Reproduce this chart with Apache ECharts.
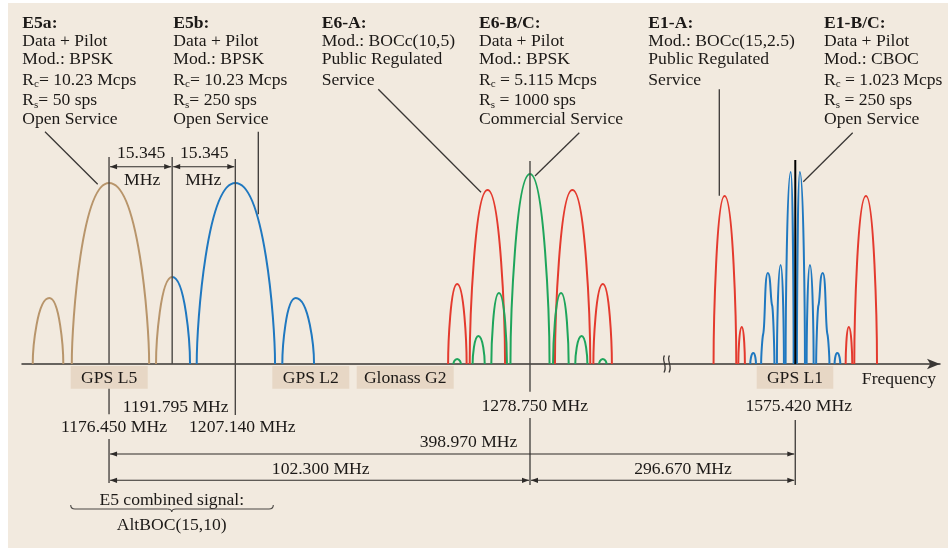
<!DOCTYPE html>
<html><head><meta charset="utf-8">
<script src="https://cdn.jsdelivr.net/npm/echarts@6/dist/echarts.min.js"></script>
<style>html,body{margin:0;padding:0;background:#fff}#c{width:948px;height:548px}</style>
</head><body><div id="c"></div>
<script>
// ---------------- DATA (frequencies in MHz, heights in relative PSD units) ----------------
// lobe = [startFreq, peakFreq, endFreq, height, half(-1 left half only, 1 right half only, 0 full)]
const e5aLobes = [[1157.91,1161.94,1165.34,66,0],[1167.40,1176.45,1186.20,181,0],[1187.87,1191.80,1196.13,87,-1]];
const e5bLobes = [[1187.87,1191.80,1196.13,87,1],[1197.76,1207.14,1216.79,181,0],[1218.56,1221.82,1226.27,66,0]];
const e6aLobes = [[1258.85,1261.05,1263.35,80,0],[1264.10,1268.45,1272.69,174,0],[1284.81,1289.05,1293.40,174,0],[1294.15,1296.45,1298.65,80,0]];
const e6bcLobes = [[1260.15,1261.05,1261.95,5,0],[1264.80,1266.20,1267.75,28,0],[1269.35,1271.20,1273.15,71,0],[1274.00,1278.75,1283.50,190,0],[1284.35,1286.30,1288.15,71,0],[1289.75,1291.30,1292.70,28,0],[1295.55,1296.45,1297.35,5,0]];
const e1aLobes = [[1555.56,1558.24,1561.08,168,0],[1561.57,1562.42,1563.18,37,0],[1587.66,1588.42,1589.27,37,0],[1589.76,1592.60,1595.28,168,0]];
const e1bcLobes = [[1564.48,1565.22,1565.87,11,0],[1570.96,1571.86,1572.66,99,0],[1573.07,1574.32,1575.02,192,0],[1575.82,1576.52,1577.77,192,0],[1578.18,1578.98,1579.88,99,0],[1584.97,1585.62,1586.36,11,0]];
// shouldered CBOC lobes: [start, shoulder1 f, shoulder1 h, peak f, peak h, shoulder2 f, shoulder2 h, end]
const e1bcShoulderLobes = [[1567.12,1567.62,30,1568.74,91,1569.83,58,1570.35],[1580.49,1581.01,58,1582.10,91,1583.22,30,1583.72]];
// reference carrier frequencies (MHz)
const markerFreqs = [1176.450, 1191.795, 1207.140, 1278.750, 1575.420];
const bandLabels = ['GPS L5','GPS L2','Glonass G2','GPS L1'];
const axisName = 'Frequency';
const blockTitles = ['E5a:','E5b:','E6-A:','E6-B/C:','E1-A:','E1-B/C:'];
const blockLines = [
  ['Data + Pilot','Mod.: BPSK','R{s|c}= 10.23 Mcps','R{s|s}= 50 sps','Open Service'],
  ['Data + Pilot','Mod.: BPSK','R{s|c}= 10.23 Mcps','R{s|s}= 250 sps','Open Service'],
  ['Mod.: BOCc(10,5)','Public Regulated','Service'],
  ['Data + Pilot','Mod.: BPSK','R{s|c} = 5.115 Mcps','R{s|s} = 1000 sps','Commercial Service'],
  ['Mod.: BOCc(15,2.5)','Public Regulated','Service'],
  ['Data + Pilot','Mod.: CBOC','R{s|c} = 1.023 Mcps','R{s|s} = 250 sps','Open Service']
];
const e5Caption = ['E5 combined signal:','AltBOC(15,10)'];

// ---------------- STYLE / LAYOUT ----------------
const FONT = '"Liberation Serif","Times New Roman",serif';
const FS = 17.6;
const TXT = '#1c1917';
const BG = '#f2eadf', BOX = '#e7d7c5', LINE = '#4a4744';
const C_BROWN = '#b8956b', C_BLUE = '#1f78c0', C_RED = '#e43a2e', C_GREEN = '#1ea55b';
const KV = 0.25, KH = 0.72;
const blockX = [22.3, 173.3, 321.7, 479, 648.3, 824];
const lineY = [23.5, 41, 59.5, 80, 100.5, 119];
const boxX = [[70.7,147.7],[272.3,349.3],[356.7,453.7],[756.7,833.3]];
const leaders = [[45,131.7,97.7,184.3],[258.3,131.7,258.3,214.3],[378.3,89.3,481,192.3],[579.3,132.7,535,176],[719.3,89.3,719.3,195.7],[852.7,132.7,803.3,181.7]];

function ctrl(A, B) {
  if (A[2] === 'v') return [A[0], A[1] + (B[1] - A[1]) * KV];
  if (A[2] === 's') return [A[0] + (B[0] - A[0]) * 0.45, A[1] + (B[1] - A[1]) * 0.12];
  return [A[0] + (B[0] - A[0]) * KH, A[1]];
}
function knotPath(api, knots) {
  const p = knots.map(k => { const c = api.coord([k[0], k[1]]); return [c[0], c[1], k[2]]; });
  let d = 'M' + p[0][0] + ',' + p[0][1];
  for (let i = 0; i < p.length - 1; i++) {
    const A = p[i], B = p[i + 1];
    const c1 = ctrl(A, B), c2 = ctrl(B, A);
    d += ' C' + c1[0] + ',' + c1[1] + ' ' + c2[0] + ',' + c2[1] + ' ' + B[0] + ',' + B[1];
  }
  return d;
}
function lobeSeries(name, gi, data, color) {
  return {
    type: 'custom', name, xAxisIndex: gi, yAxisIndex: gi, clip: false, z: 5,
    dimensions: ['start','peak','end','height','half'], encode: { x: [0,1,2], y: 3 },
    data,
    renderItem(params, api) {
      const x0 = api.value(0), xp = api.value(1), x1 = api.value(2), h = api.value(3), half = api.value(4);
      let k;
      if (half < 0) k = [[x0,0,'v'],[xp,h,'h']];
      else if (half > 0) k = [[xp,h,'h'],[x1,0,'v']];
      else k = [[x0,0,'v'],[xp,h,'h'],[x1,0,'v']];
      return { type: 'path', shape: { pathData: knotPath(api, k) }, style: { stroke: color, fill: 'none', lineWidth: 2 } };
    }
  };
}
function shoulderSeries(name, gi, data, color) {
  return {
    type: 'custom', name, xAxisIndex: gi, yAxisIndex: gi, clip: false, z: 5,
    dimensions: ['s','f1','h1','fp','hp','f2','h2','e'], encode: { x: [0,3,7], y: 4 },
    data,
    renderItem(params, api) {
      const v = i => api.value(i);
      const k = [[v(0),0,'v'],[v(1),v(2),'s'],[v(3),v(4),'h'],[v(5),v(6),'s'],[v(7),0,'v']];
      return { type: 'path', shape: { pathData: knotPath(api, k) }, style: { stroke: color, fill: 'none', lineWidth: 2 } };
    }
  };
}

const chart = echarts.init(document.getElementById('c'), null, { renderer: 'canvas' });
const axisLineStyle = { color: '#3a3735', width: 1.5 };
const option = {
  backgroundColor: '#ffffff',
  animation: false,
  grid: [
    { left: 22, top: 0, width: 644, height: 364 },
    { left: 666, top: 0, width: 274, height: 364 }
  ],
  xAxis: [
    { type: 'value', gridIndex: 0, min: 1155.3, max: 1311.8, axisLine: { show: true, onZero: false, lineStyle: axisLineStyle },
      axisTick: { show: false }, axisLabel: { show: false }, splitLine: { show: false } },
    { type: 'value', gridIndex: 1, min: 1544.0, max: 1610.59, axisLine: { show: true, onZero: false, symbol: ['none','arrow'], symbolSize: [8, 13], lineStyle: axisLineStyle },
      axisTick: { show: false }, axisLabel: { show: false }, splitLine: { show: false } }
  ],
  yAxis: [
    { type: 'value', gridIndex: 0, min: 0, max: 364, show: false },
    { type: 'value', gridIndex: 1, min: 0, max: 364, show: false }
  ],
  series: [
    lobeSeries('E5a', 0, e5aLobes, C_BROWN),
    lobeSeries('E5b', 0, e5bLobes, C_BLUE),
    lobeSeries('E6-A', 0, e6aLobes, C_RED),
    lobeSeries('E6-B/C', 0, e6bcLobes, C_GREEN),
    lobeSeries('E1-A', 1, e1aLobes, C_RED),
    lobeSeries('E1-B/C', 1, e1bcLobes, C_BLUE),
    shoulderSeries('E1-B/C shoulders', 1, e1bcShoulderLobes, C_BLUE)
  ]
};
chart.setOption(option);

// ---------------- annotations ----------------
const px = markerFreqs.map((f, i) => chart.convertToPixel({ xAxisIndex: i < 4 ? 0 : 1 }, f));
const baseY = chart.convertToPixel({ yAxisIndex: 0 }, 0);
const G = [];
G.push({ type: 'rect', shape: { x: 8, y: 3, width: 940, height: 545 }, style: { fill: BG }, z: -10, silent: true });
function ln(x1, y1, x2, y2, stroke, w) { G.push({ type: 'line', shape: { x1, y1, x2, y2 }, style: { stroke: stroke || LINE, lineWidth: w || 1.4 }, z: 20 }); }
function bz(x1, y1, cx1, cy1, cx2, cy2, x2, y2, stroke, w) {
  const shape = { x1, y1, x2, y2, cpx1: cx1, cpy1: cy1 };
  if (cx2 != null) { shape.cpx2 = cx2; shape.cpy2 = cy2; }
  G.push({ type: 'bezierCurve', shape, style: { stroke: stroke || LINE, lineWidth: w || 1.2, fill: null }, z: 22 });
}
function head(x, y, dir) { G.push({ type: 'polygon', shape: { points: [[x, y], [x - dir * 7, y - 2.6], [x - dir * 7, y + 2.6]] }, style: { fill: '#2e2b29' }, z: 21 }); }
function dim(xa, xb, y) { ln(xa + 1, y, xb - 1, y, '#2e2b29', 1.1); head(xa + 1, y, -1); head(xb - 1, y, 1); }
function txt(x, y, text, o) {
  G.push({ type: 'text', x, y, z: 30, style: Object.assign({ text, fontFamily: FONT, fontSize: FS, fill: TXT, align: 'left', verticalAlign: 'middle', lineHeight: 20,
    rich: { s: { fontFamily: FONT, fontSize: 11, lineHeight: 11, verticalAlign: 'bottom', fill: TXT } } }, o || {}) });
}
const mhz = v => v.toFixed(3) + ' MHz';

// band boxes
bandLabels.forEach((b, i) => {
  G.push({ type: 'rect', shape: { x: boxX[i][0], y: 366, width: boxX[i][1] - boxX[i][0], height: 22.7 }, style: { fill: BOX }, z: 8 });
  txt((boxX[i][0] + boxX[i][1]) / 2, 378, b, { align: 'center' });
});
txt(899, 379, axisName, { align: 'center' });

// vertical reference lines
ln(px[0], 157, px[0], baseY); ln(px[0], 388.7, px[0], 414.3); ln(px[0], 439, px[0], 483);
ln(px[1], 157, px[1], baseY);
ln(px[2], 159, px[2], 415);
ln(px[3], 161, px[3], 391.7); ln(px[3], 418, px[3], 485);
ln(px[4], 160, px[4], baseY, '#000', 2); ln(px[4], 420, px[4], 485);

// frequency labels
txt(px[1] + 3.5, 407, mhz(markerFreqs[1]), { align: 'center' });
txt(px[0] + 5, 427, mhz(markerFreqs[0]), { align: 'center' });
txt(px[2] + 7, 427, mhz(markerFreqs[2]), { align: 'center' });
txt(px[3] + 4.7, 406, mhz(markerFreqs[3]), { align: 'center' });
txt(px[4] + 3.4, 406, mhz(markerFreqs[4]), { align: 'center' });

// 15.345 MHz spacings
dim(px[0], px[1], 166.7); dim(px[1], px[2], 166.7);
txt((px[0] + px[1]) / 2 + 0.5, 153.3, (markerFreqs[1] - markerFreqs[0]).toFixed(3), { align: 'center' });
txt((px[1] + px[2]) / 2 + 0.5, 153.3, (markerFreqs[2] - markerFreqs[1]).toFixed(3), { align: 'center' });
txt((px[0] + px[1]) / 2 + 1.5, 180.7, 'MHz', { align: 'center' });
txt((px[1] + px[2]) / 2 - 0.5, 180.7, 'MHz', { align: 'center' });

// long dimension lines
dim(px[0], px[4], 454);
txt(468.5, 442, mhz(markerFreqs[4] - markerFreqs[0]), { align: 'center' });
dim(px[0], px[3], 480.3); dim(px[3], px[4], 480.3);
txt(320.7, 469.3, mhz(markerFreqs[3] - markerFreqs[0]), { align: 'center' });
txt(683, 469, mhz(markerFreqs[4] - markerFreqs[3]), { align: 'center' });

// E5 combined caption + brace
txt(171.7, 500, e5Caption[0], { align: 'center' });
txt(171.7, 525, e5Caption[1], { align: 'center' });
bz(70.7, 505, 70.7, 509, null, null, 75, 509, '#4a4744', 1.1);
ln(75, 509, 167.5, 509, '#4a4744', 1.1);
bz(167.5, 509, 171.7, 509, null, null, 171.7, 512, '#4a4744', 1.1);
bz(171.7, 512, 171.7, 509, null, null, 176, 509, '#4a4744', 1.1);
ln(176, 509, 269, 509, '#4a4744', 1.1);
bz(269, 509, 273.3, 509, null, null, 273.3, 505, '#4a4744', 1.1);

// axis break squiggle
bz(664.5, 355.5, 661, 360, 668, 366, 664, 372.5, '#3a3735', 1.3);
bz(669.5, 355.5, 666, 360, 673, 366, 669, 372.5, '#3a3735', 1.3);

// text blocks
blockTitles.forEach((t, i) => {
  txt(blockX[i], lineY[0], t, { fontWeight: 'bold' });
  blockLines[i].forEach((l, j) => txt(blockX[i], lineY[j + 1], l));
});
// leader lines
leaders.forEach(l => ln(l[0], l[1], l[2], l[3], '#3a3735', 1.3));

chart.setOption({ graphic: { elements: G } });
</script></body></html>
